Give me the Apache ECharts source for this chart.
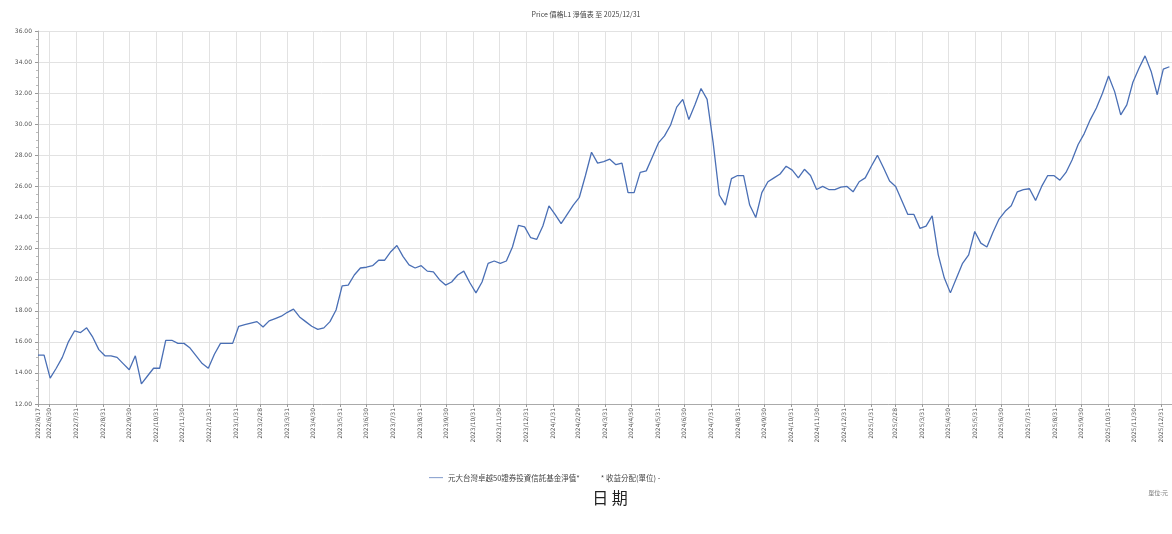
<!DOCTYPE html>
<html><head><meta charset="utf-8">
<script src="https://cdn.jsdelivr.net/npm/echarts@6/dist/echarts.min.js"></script>
<style>html,body{margin:0;padding:0;background:#fff}#c{width:1172px;height:534px}</style>
</head><body><div id="c"></div>
<script>
const titleText = 'Price 價格L1 淨值表 至 2025/12/31';
const seriesName = '元大台灣卓越50證券投資信託基金淨值*';
const seriesName2 = '* 收益分配(單位) -';
const xAxisName = '日 期';
const noteText = '單位:元';
const yMin = 12, yMax = 36, yStep = 2;
const axisStart = '2022-06-17', axisEnd = '2026-01-12';

const weekDates = [
'2022-06-17','2022-06-24','2022-07-01','2022-07-08','2022-07-15','2022-07-22','2022-07-29','2022-08-05','2022-08-12','2022-08-19','2022-08-26','2022-09-02','2022-09-09','2022-09-16','2022-09-23','2022-09-30','2022-10-07','2022-10-14','2022-10-21','2022-10-28','2022-11-04','2022-11-11','2022-11-18','2022-11-25','2022-12-02','2022-12-09','2022-12-16','2022-12-23','2022-12-30',
'2023-01-06','2023-01-13','2023-01-20','2023-01-27','2023-02-03','2023-02-10','2023-02-17','2023-02-24','2023-03-03','2023-03-10','2023-03-17','2023-03-24','2023-03-31','2023-04-07','2023-04-14','2023-04-21','2023-04-28','2023-05-05','2023-05-12','2023-05-19','2023-05-26','2023-06-02','2023-06-09','2023-06-16','2023-06-23','2023-06-30','2023-07-07','2023-07-14','2023-07-21','2023-07-28','2023-08-04','2023-08-11','2023-08-18','2023-08-25','2023-09-01','2023-09-08','2023-09-15','2023-09-22','2023-09-29','2023-10-06','2023-10-13','2023-10-20','2023-10-27','2023-11-03','2023-11-10','2023-11-17','2023-11-24','2023-12-01','2023-12-08','2023-12-15','2023-12-22','2023-12-29',
'2024-01-05','2024-01-12','2024-01-19','2024-01-26','2024-02-02','2024-02-09','2024-02-16','2024-02-23','2024-03-01','2024-03-08','2024-03-15','2024-03-22','2024-03-29','2024-04-05','2024-04-12','2024-04-19','2024-04-26','2024-05-03','2024-05-10','2024-05-17','2024-05-24','2024-05-31','2024-06-07','2024-06-14','2024-06-21','2024-06-28','2024-07-05','2024-07-12','2024-07-19','2024-07-26','2024-08-02','2024-08-09','2024-08-16','2024-08-23','2024-08-30','2024-09-06','2024-09-13','2024-09-20','2024-09-27','2024-10-04','2024-10-11','2024-10-18','2024-10-25','2024-11-01','2024-11-08','2024-11-15','2024-11-22','2024-11-29','2024-12-06','2024-12-13','2024-12-20','2024-12-27',
'2025-01-03','2025-01-10','2025-01-17','2025-01-24','2025-01-31','2025-02-07','2025-02-14','2025-02-21','2025-02-28','2025-03-07','2025-03-14','2025-03-21','2025-03-28','2025-04-04','2025-04-11','2025-04-18','2025-04-25','2025-05-02','2025-05-09','2025-05-16','2025-05-23','2025-05-30','2025-06-06','2025-06-13','2025-06-20','2025-06-27','2025-07-04','2025-07-11','2025-07-18','2025-07-25','2025-08-01','2025-08-08','2025-08-15','2025-08-22','2025-08-29','2025-09-05','2025-09-12','2025-09-19','2025-09-26','2025-10-03','2025-10-10','2025-10-17','2025-10-24','2025-10-31','2025-11-07','2025-11-14','2025-11-21','2025-11-28','2025-12-05','2025-12-12','2025-12-19','2025-12-26',
'2026-01-02','2026-01-09'
];

const navValues = [
15.15,15.15,13.67,14.3,15.0,16.0,16.7,16.6,16.9,16.3,15.5,15.1,15.1,15.0,14.6,14.2,15.1,13.3,13.8,14.3,14.3,16.1,16.1,15.9,15.9,15.6,15.1,14.6,14.3,
15.2,15.9,15.9,15.9,17.0,17.1,17.2,17.3,16.95,17.35,17.5,17.65,17.9,18.1,17.6,17.3,17.0,16.8,16.9,17.3,18.05,19.6,19.65,20.3,20.75,20.8,20.9,21.25,21.25,21.8,22.2,21.5,20.95,20.75,20.9,20.55,20.5,20.0,19.65,19.85,20.3,20.55,19.8,19.15,19.85,21.05,21.2,21.05,21.2,22.1,23.5,23.4,
22.7,22.6,23.45,24.75,24.2,23.6,24.2,24.8,25.3,26.7,28.2,27.5,27.6,27.75,27.4,27.5,25.6,25.6,26.9,27.0,27.9,28.8,29.25,29.95,31.1,31.6,30.3,31.25,32.3,31.6,28.8,25.45,24.8,26.5,26.7,26.7,24.8,24.0,25.6,26.3,26.55,26.8,27.3,27.05,26.55,27.1,26.7,25.8,26.0,25.8,25.8,25.95,
26.0,25.65,26.3,26.55,27.3,28.0,27.2,26.35,26.0,25.1,24.2,24.2,23.3,23.45,24.1,21.6,20.1,19.15,20.1,21.05,21.6,23.1,22.35,22.1,23.05,23.9,24.4,24.75,25.65,25.8,25.85,25.1,26.0,26.7,26.7,26.4,26.9,27.7,28.7,29.4,30.3,31.05,32.0,33.1,32.1,30.6,31.25,32.7,33.6,34.4,33.4,31.9,
33.55,33.7
];

const tickDates = [
'2022-06-17','2022-06-30','2022-07-31','2022-08-31','2022-09-30','2022-10-31','2022-11-30','2022-12-31',
'2023-01-31','2023-02-28','2023-03-31','2023-04-30','2023-05-31','2023-06-30','2023-07-31','2023-08-31','2023-09-30','2023-10-31','2023-11-30','2023-12-31',
'2024-01-31','2024-02-29','2024-03-31','2024-04-30','2024-05-31','2024-06-30','2024-07-31','2024-08-31','2024-09-30','2024-10-31','2024-11-30','2024-12-31',
'2025-01-31','2025-02-28','2025-03-31','2025-04-30','2025-05-31','2025-06-30','2025-07-31','2025-08-31','2025-09-30','2025-10-31','2025-11-30','2025-12-31'
];

function ts(s){ const p = s.split('-').map(Number); return Date.UTC(p[0], p[1]-1, p[2]); }
function fmt(v){ const d = new Date(v); return d.getUTCFullYear() + '/' + (d.getUTCMonth()+1) + '/' + d.getUTCDate(); }
const tickTs = tickDates.map(ts);
const seriesData = weekDates.map((d,i)=>[ts(d), navValues[i]]);

const chart = echarts.init(document.getElementById('c'), null, {renderer:'canvas'});
chart.setOption({
  animation:false,
  backgroundColor:'#fff',
  title:{ text:titleText, left:'center', top:6, textStyle:{fontSize:7, fontWeight:'normal', color:'#444', fontFamily:'Noto Sans CJK TC'} },
  legend:{ top:469, left:424, itemWidth:14, itemHeight:6, itemGap:6,
    textStyle:{fontSize:7.5, color:'#444', fontFamily:'Noto Sans CJK TC'},
    data:[{name:seriesName, icon:'path://M0,5L20,5L20,6L0,6Z'},{name:seriesName2, icon:'path://M0,0L1,0L1,1L0,1Z', itemStyle:{color:'rgba(0,0,0,0)'}}] },
  grid:{ left:38, right:0, top:31, bottom:130 },
  xAxis:{ type:'value', min:ts(axisStart), max:ts(axisEnd),
    name:xAxisName, nameLocation:'middle', nameGap:86,
    nameTextStyle:{fontSize:16, color:'#222', fontFamily:'Noto Sans CJK TC', padding:[0,0,0,10]},
    axisLine:{show:true, lineStyle:{color:'#aaa', width:1}},
    axisTick:{show:true, length:3, customValues:tickTs, lineStyle:{color:'#999'}},
    axisLabel:{ customValues:tickTs, rotate:90, fontSize:6, color:'#555', margin:4, formatter:fmt, fontFamily:'DejaVu Sans' },
    splitLine:{show:true, lineStyle:{color:'#e2e2e2', width:1}}
  },
  yAxis:{ type:'value', min:yMin, max:yMax, interval:yStep,
    axisLine:{show:true, lineStyle:{color:'#aaa'}},
    axisTick:{show:true, length:3, lineStyle:{color:'#999'}},
    minorTick:{show:true, splitNumber:4, length:2, lineStyle:{color:'#bbb'}},
    axisLabel:{ fontSize:6, color:'#555', margin:6, formatter:v=>v.toFixed(2), fontFamily:'DejaVu Sans' },
    splitLine:{show:true, lineStyle:{color:'#e2e2e2'}}
  },
  series:[
    { name:seriesName, type:'line', data:seriesData, showSymbol:false, symbol:'none',
      lineStyle:{color:'#4a6fb5', width:1.3}, itemStyle:{color:'#4a6fb5'} },
    { name:seriesName2, type:'scatter', data:[], symbol:'none', itemStyle:{color:'#666'} }
  ],
  graphic:[
    { type:'text', right:4, top:490, style:{ text:noteText, fontSize:6, fill:'#777', fontFamily:'Noto Sans CJK TC' } }
  ]
});
</script></body></html>
